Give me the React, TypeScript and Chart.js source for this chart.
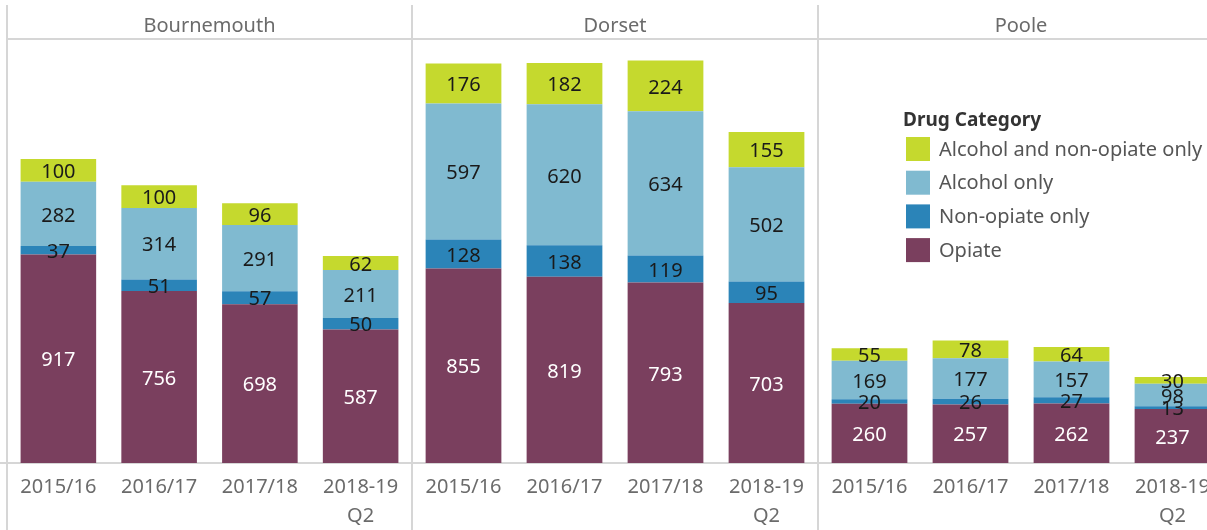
import React, { useEffect, useRef } from 'react';
import { Chart, registerables } from 'chart.js';

Chart.register(...registerables);

// ---- data ----
const regions = ['Bournemouth', 'Dorset', 'Poole'];
const periods: (string | string[])[] = ['2015/16', '2016/17', '2017/18', ['2018-19', 'Q2']];
const seriesNames = ['Opiate', 'Non-opiate only', 'Alcohol only', 'Alcohol and non-opiate only'];
const seriesColors = ['#7a3f5e', '#2b84b8', '#80bad0', '#c5d92e'];
const labelColors = ['#ffffff', '#1a1a1a', '#1a1a1a', '#1a1a1a'];

// values per series: Bournemouth (4), Dorset (4), Poole (4)
const opiate = [917, 756, 698, 587, 855, 819, 793, 703, 260, 257, 262, 237];
const nonOpiate = [37, 51, 57, 50, 128, 138, 119, 95, 20, 26, 27, 13];
const alcoholOnly = [282, 314, 291, 211, 597, 620, 634, 502, 169, 177, 157, 98];
const alcoholNonOpiate = [100, 100, 96, 62, 176, 182, 224, 155, 55, 78, 64, 30];
const seriesValues = [opiate, nonOpiate, alcoholOnly, alcoholNonOpiate];

const legendTitle = 'Drug Category';
const yMax = 1864;

// ---- styling ----
const FONT = '"Noto Sans", "DejaVu Sans", sans-serif';
const GREY_TEXT = '#6b6b6b';
const LINE = '#d6d6d6';

const segmentLabels = {
  id: 'segmentLabels',
  afterDatasetsDraw(chart: any) {
    const ctx = chart.ctx;
    ctx.save();
    ctx.font = `20px ${FONT}`;
    ctx.textAlign = 'center';
    ctx.textBaseline = 'middle';
    chart.data.datasets.forEach((ds: any, di: number) => {
      const meta = chart.getDatasetMeta(di);
      meta.data.forEach((el: any, i: number) => {
        const v = ds.data[i];
        const y = (el.y + el.base) / 2 + 2;
        ctx.fillStyle = ds.labelColor;
        ctx.fillText(String(v), el.x, y);
      });
    });
    ctx.restore();
  },
};

const headerLine = {
  id: 'headerLine',
  afterDraw(chart: any) {
    const ctx = chart.ctx;
    ctx.save();
    ctx.strokeStyle = LINE;
    ctx.lineWidth = 2;
    ctx.beginPath();
    ctx.moveTo(0, chart.chartArea.top);
    ctx.lineTo(chart.width, chart.chartArea.top);
    ctx.stroke();
    ctx.restore();
  },
};

const legendPlugin = {
  id: 'customLegend',
  afterDraw(chart: any) {
    const ctx = chart.ctx;
    const x0 = 84;
    ctx.save();
    ctx.textBaseline = 'middle';
    ctx.textAlign = 'left';
    ctx.fillStyle = '#333333';
    ctx.font = `bold 19px ${FONT}`;
    ctx.fillText(legendTitle, x0, 121);
    ctx.font = `20px ${FONT}`;
    const items = chart.data.datasets.slice().reverse();
    items.forEach((ds: any, i: number) => {
      const top = 137 + i * 33.7;
      ctx.fillStyle = ds.backgroundColor;
      ctx.fillRect(x0 + 3, top, 24, 24);
      ctx.fillStyle = '#555555';
      ctx.fillText(ds.label, x0 + 36, top + 13);
    });
    ctx.restore();
  },
};

function Panel({ index, left, width }: { index: number; left: number; width: number }) {
  const ref = useRef<HTMLCanvasElement | null>(null);
  useEffect(() => {
    if (!ref.current) return;
    const start = index * 4;
    const chart = new Chart(ref.current, {
      type: 'bar',
      data: {
        labels: periods as any,
        datasets: seriesNames.map((name, si) => ({
          label: name,
          data: seriesValues[si].slice(start, start + 4),
          backgroundColor: seriesColors[si],
          labelColor: labelColors[si],
          barPercentage: 0.75,
          categoryPercentage: 1,
        })) as any,
      },
      options: {
        responsive: false,
        animation: false,
        layout: { padding: { left: 0, right: 0, top: 0, bottom: 0 } },
        plugins: {
          legend: { display: false },
          tooltip: { enabled: false },
          title: {
            display: true,
            text: regions[index],
            color: GREY_TEXT,
            font: { family: FONT, size: 20, weight: 'normal' as any },
            padding: { top: 14, bottom: 1 },
          },
        },
        scales: {
          x: {
            stacked: true,
            grid: { display: true, drawOnChartArea: false, drawTicks: false, color: 'rgba(0,0,0,0)' },
            border: { display: true, color: LINE, width: 2 },
            ticks: {
              color: GREY_TEXT,
              font: { family: FONT, size: 20, lineHeight: 1.45 },
              padding: 10,
              autoSkip: false,
              maxRotation: 0,
            },
            afterFit(scale: any) {
              scale.height = 67;
            },
          },
          y: { stacked: true, display: false, min: 0, max: yMax },
        },
      },
      plugins: index === 2 ? [segmentLabels, headerLine, legendPlugin] : [segmentLabels, headerLine],
    });
    return () => chart.destroy();
  }, [index]);
  return (
    <canvas
      ref={ref}
      width={width}
      height={530}
      style={{ position: 'absolute', left, top: 0, width, height: 530 }}
    />
  );
}

const panelLines = [6, 411, 817];

export default function App() {
  return (
    <div
      style={{
        position: 'absolute',
        left: 0,
        top: 0,
        width: 1207,
        height: 530,
        overflow: 'hidden',
        background: '#ffffff',
      }}
    >
      <Panel index={0} left={8} width={403} />
      <Panel index={1} left={413} width={404} />
      <Panel index={2} left={819} width={404} />
      {panelLines.map((x) => (
        <div
          key={x}
          style={{ position: 'absolute', left: x, top: 5, width: 2, height: 525, background: LINE }}
        />
      ))}
      <div style={{ position: 'absolute', left: 0, top: 462, width: 6, height: 2, background: LINE }} />
    </div>
  );
}
